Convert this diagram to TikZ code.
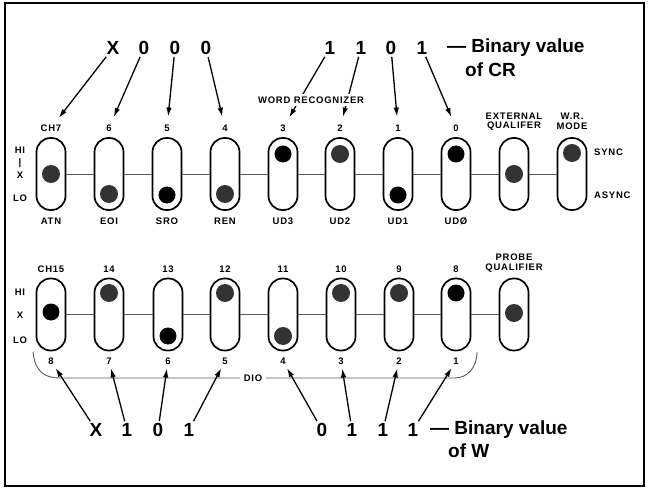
\documentclass[tikz,border=0pt]{standalone}
\usepackage{fontspec}
\setmainfont{Liberation Sans}
\newfontfamily\labfont{Liberation Sans}[LetterSpace=8]
\usetikzlibrary{arrows.meta}
\begin{document}
\begin{tikzpicture}[x=1pt,y=-1pt,
  sw/.style={draw, line width=1.7pt, rounded corners=14pt, minimum width=29pt, minimum height=72pt, inner sep=0pt},
  ballk/.style={circle, fill=black, minimum size=17pt, inner sep=0pt},
  ballg/.style={circle, fill=black!80, minimum size=18pt, inner sep=0pt},
  lab/.style={font=\labfont\bfseries\fontsize{9.5}{11}\selectfont, inner sep=1pt, align=center},
  big/.style={font=\bfseries\fontsize{19}{22}\selectfont, inner sep=2pt},
  link/.style={draw=black!65, line width=0.9pt},
  arr/.style={-{Latex[length=9pt,width=5.5pt]}, line width=1.3pt}
]
\useasboundingbox (0,0) rectangle (650,489);
\draw[line width=2pt] (5,3) rectangle (644,486);

% ---------- row 1 switches ----------
\foreach \i/\x in {1/51,2/109,3/167,4/225,5/283,6/340,7/398,8/456,9/514,10/572}
  \node[sw] (a\i) at (\x,174) {};
\foreach \i [evaluate=\i as \j using int(\i+1)] in {1,...,9}
  \draw[link] (a\i.east) -- (a\j.west);
% balls row 1 (HI 154, X 174, LO 195)
\node[ballg] (ka1) at (51,174) {};
\node[ballg] (ka2) at (109,194) {};
\node[ballk] (ka3) at (167,195) {};
\node[ballg] (ka4) at (225,194) {};
\node[ballk] (ka5) at (283,154) {};
\node[ballg] (ka6) at (340,154) {};
\node[ballk] (ka7) at (398,195) {};
\node[ballk] (ka8) at (456,154) {};
\node[ballg] (ka9) at (514,174) {};
\node[ballg] (ka10) at (572,153) {};

% labels row 1
\foreach \i/\x/\t in {1/51/CH7,2/109/6,3/167/5,4/225/4,5/283/3,6/340/2,7/398/1,8/456/0}
  \node[lab] (ta\i) at (\x,128) {\t};
\node[lab] (ta9) at (514,121.5) {EXTERNAL\\[-1.5pt]QUALIFER};
\node[lab] (ta10) at (572,121.5) {W.R.\\[-1.5pt]MODE};
\foreach \i/\x/\t in {1/51/ATN,2/109/EOI,3/167/SRO,4/225/REN,5/283/UD3,6/340/UD2,7/398/UD1,8/456/UDØ}
  \node[lab] (ba\i) at (\x,221) {\t};
\node[lab] (hi1) at (20,150) {HI};
\node[lab] (bar1) at (20,163) {|};
\node[lab] (x1) at (20,175) {X};
\node[lab] (lo1) at (20,198) {LO};
\node[lab, anchor=west] (sync) at (593,152) {SYNC};
\node[lab, anchor=west] (async) at (593,195) {ASYNC};

% top digits
\foreach \i/\x/\t in {1/113/X,2/144/0,3/175/0,4/206/0,5/330/1,6/361/1,7/391/0,8/422/1}
  \node[big] (d\i) at (\x,48) {\t};
\node[big, anchor=west] (bvcr) at (445,48) {— Binary value};
\node[big, anchor=west] (ofcr) at (463,70) {of CR};
\foreach \i in {1,...,8}
  \draw[arr, shorten >=7pt] (d\i) -- (ta\i);
\node[lab, fill=white, inner ysep=3pt] (wr) at (311,100) {WORD RECOGNIZER};

% ---------- row 2 switches ----------
\foreach \i/\x in {1/51,2/109,3/168,4/225,5/283,6/341,7/399,8/456,9/514}
  \node[sw] (b\i) at (\x,314.5) {};
\foreach \i [evaluate=\i as \j using int(\i+1)] in {1,...,8}
  \draw[link] (b\i.east) -- (b\j.west);
\node[ballk] (kb1) at (51,312) {};
\node[ballg] (kb2) at (109,293) {};
\node[ballk] (kb3) at (168,336) {};
\node[ballg] (kb4) at (225,293) {};
\node[ballg] (kb5) at (283,336) {};
\node[ballg] (kb6) at (341,293) {};
\node[ballg] (kb7) at (399,293) {};
\node[ballk] (kb8) at (456,293) {};
\node[ballg] (kb9) at (514,313) {};

\foreach \i/\x/\t in {1/51/CH15,2/109/14,3/168/13,4/225/12,5/283/11,6/341/10,7/399/9,8/456/8}
  \node[lab] (tb\i) at (\x,269) {\t};
\node[lab] (tb9) at (514,263) {PROBE\\[-1.5pt]QUALIFIER};
\foreach \i/\x/\t in {1/51/8,2/109/7,3/168/6,4/225/5,5/283/4,6/341/3,7/399/2,8/456/1}
  \node[lab] (bb\i) at (\x,361) {\t};
\node[lab] (hi2) at (20,292) {HI};
\node[lab] (x2) at (20,315) {X};
\node[lab] (lo2) at (20,340) {LO};

% DIO bracket
\coordinate (dl) at (33,352);
\coordinate (dr) at (477,352);
\draw[link] (dl) .. controls (35,372) and (45,378) .. (60,378) -- (455,378) .. controls (467,378) and (477,368) .. (dr);
\node[lab, fill=white, inner xsep=4pt] (dio) at (253,378) {DIO};

% bottom digits
\foreach \i/\x/\t in {1/96/X,2/127/1,3/158/0,4/189/1,5/322/0,6/352/1,7/383/1,8/413/1}
  \node[big] (e\i) at (\x,430) {\t};
\node[big, anchor=west] (bvw) at (428,430) {— Binary value};
\node[big, anchor=west] (ofw) at (446,451) {of W};
\foreach \i in {1,...,8}
  \draw[arr, shorten >=3pt] (e\i) -- (bb\i);
\end{tikzpicture}
\end{document}
